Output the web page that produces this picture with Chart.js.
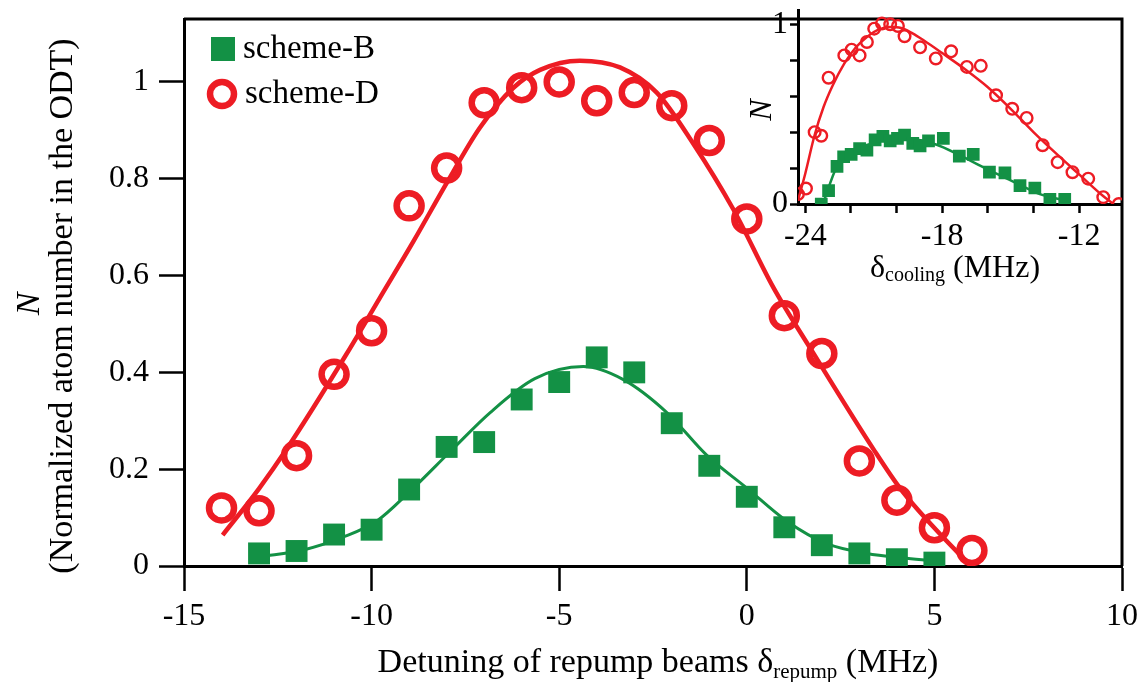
<!DOCTYPE html>
<html lang="en">
<head>
<meta charset="UTF-8">
<title>Atom number in the ODT vs repump detuning</title>
<script src="https://cdn.jsdelivr.net/npm/chart.js"></script>
<style>
  html, body { margin: 0; padding: 0; background: #fff; }
  #wrap { position: relative; width: 1141px; height: 682px; }
  .box { position: absolute; }
</style>
</head>
<body>
<div id="wrap">
  <div class="box" style="left:0;top:0;width:1141px;height:682px"><canvas id="main"></canvas></div>
  <div class="box" style="left:740px;top:0;width:401px;height:300px"><canvas id="inset"></canvas></div>
</div>
<script>
const RED = '#ED1C24';
const GREEN = '#139145';
const SERIF = "'Liberation Serif', 'Times New Roman', serif";

// main panel: repump detuning (MHz) vs normalized atom number
const repumpB = [-13, -12, -11, -10, -9, -8, -7, -6, -5, -4, -3, -2, -1, 0, 1, 2, 3, 4, 5];
const atomsB = [0.026, 0.031, 0.065, 0.075, 0.158, 0.246, 0.256, 0.344, 0.380, 0.431, 0.400, 0.295, 0.207, 0.143, 0.080, 0.043, 0.026, 0.014, 0.007];
const repumpD = [-14, -13, -12, -11, -10, -9, -8, -7, -6, -5, -4, -3, -2, -1, 0, 1, 2, 3, 4, 5, 6];
const atomsD = [0.120, 0.114, 0.228, 0.396, 0.486, 0.744, 0.822, 0.957, 0.988, 1.000, 0.961, 0.978, 0.951, 0.879, 0.717, 0.517, 0.439, 0.217, 0.136, 0.079, 0.032];

// fitted curves, sampled
const fitBx = [-12.97, -11.82, -10.75, -9.86, -8.98, -7.91, -6.84, -5.65, -4.36, -3.29, -2.13, -1.07, 0, 1.06, 2.13, 3.2, 4.26, 5.15];
const fitBy = [0.019, 0.033, 0.060, 0.093, 0.154, 0.236, 0.317, 0.387, 0.412, 0.385, 0.317, 0.229, 0.161, 0.093, 0.046, 0.026, 0.016, 0.009];
const fitDx = [-13.97, -13, -12.26, -10.66, -9.78, -8.89, -8.0, -7.11, -6.22, -5.51, -4.45, -3.38, -2.40, -1.43, -0.36, 0.71, 1.77, 3.37, 4.08, 5.15, 5.95];
const fitDy = [0.064, 0.160, 0.242, 0.439, 0.554, 0.670, 0.791, 0.906, 0.988, 1.025, 1.044, 1.030, 0.978, 0.873, 0.737, 0.575, 0.440, 0.242, 0.161, 0.066, 0.002];

const mainXTicks = [-15, -10, -5, 0, 5, 10];
const mainYTicks = [0, 0.2, 0.4, 0.6, 0.8, 1];

// inset: cooling detuning (MHz)
const coolD = [-24.32, -23.97, -23.59, -23.30, -22.98, -22.29, -21.97, -21.62, -21.30, -20.98, -20.64, -20.28, -19.94, -19.65, -18.97, -18.28, -17.61, -16.92, -16.31, -15.64, -14.93, -14.30, -13.60, -12.94, -12.29, -11.60, -10.94, -10.26];
const insetD = [0.055, 0.086, 0.400, 0.380, 0.703, 0.827, 0.859, 0.827, 0.902, 0.976, 1.004, 1.000, 0.991, 0.934, 0.872, 0.810, 0.850, 0.763, 0.769, 0.605, 0.530, 0.479, 0.327, 0.233, 0.177, 0.141, 0.038, 0.000];
const coolB = [-23.30, -22.98, -22.61, -22.32, -21.99, -21.62, -21.30, -20.94, -20.60, -20.28, -19.96, -19.65, -19.29, -18.97, -18.60, -17.95, -17.25, -16.64, -15.93, -15.25, -14.59, -13.94, -13.28, -12.63];
const insetB = [0.000, 0.075, 0.210, 0.263, 0.276, 0.308, 0.300, 0.357, 0.376, 0.351, 0.365, 0.384, 0.338, 0.323, 0.351, 0.365, 0.267, 0.276, 0.177, 0.173, 0.102, 0.089, 0.026, 0.026];

const insetFitDx = [-24.32, -24.0, -23.6, -23.2, -22.8, -22.3, -21.8, -21.3, -20.8, -20.3, -19.8, -19.3, -18.8, -18.0, -17.0, -16.0, -15.0, -14.0, -13.0, -12.0, -11.0, -10.5];
const insetFitDy = [0.02, 0.17, 0.38, 0.54, 0.66, 0.78, 0.87, 0.93, 0.97, 0.985, 0.98, 0.95, 0.91, 0.84, 0.75, 0.65, 0.53, 0.40, 0.28, 0.165, 0.05, 0.0];
const insetFitBx = [-23.23, -22.61, -22.03, -21.15, -20.13, -19.41, -18.24, -17.22, -16.06, -14.89, -13.72, -12.63];
const insetFitBy = [0.0, 0.21, 0.28, 0.335, 0.36, 0.36, 0.33, 0.27, 0.195, 0.125, 0.055, 0.02];

const insetXTicks = [-24, -22, -20, -18, -16, -14, -12];
const insetXLabels = [-24, -18, -12];
const insetYTicks = [0, 0.2, 0.4, 0.6, 0.8, 1];
const insetYLabels = [0, 1];

const pts = (xs, ys) => xs.map((x, i) => ({ x, y: ys[i] }));

// text with an optional subscript, laid out left to right around a centre x
function drawParts(ctx, parts, cx, baseY) {
  let total = 0;
  parts.forEach(p => {
    ctx.font = `${p.italic ? 'italic ' : ''}${p.size}px ${SERIF}`;
    p.w = ctx.measureText(p.t).width;
    total += p.w;
  });
  let x = cx - total / 2;
  ctx.textAlign = 'left';
  ctx.textBaseline = 'alphabetic';
  parts.forEach(p => {
    ctx.font = `${p.italic ? 'italic ' : ''}${p.size}px ${SERIF}`;
    ctx.fillText(p.t, x, baseY + (p.dy || 0));
    x += p.w;
  });
}

function rotatedText(ctx, text, x, y, font) {
  ctx.save();
  ctx.translate(x, y);
  ctx.rotate(-Math.PI / 2);
  ctx.font = font;
  ctx.textAlign = 'center';
  ctx.textBaseline = 'middle';
  ctx.fillText(text, 0, 0);
  ctx.restore();
}

function fixTicks(values) {
  return scale => { scale.ticks = values.map(v => ({ value: v })); };
}

// fixed axis thickness, and no extra room reserved for edge labels
function fixSize(key, size) {
  return s => {
    s[key] = size;
    s.paddingTop = 0; s.paddingBottom = 0; s.paddingLeft = 0; s.paddingRight = 0;
  };
}

const mainDecor = {
  id: 'mainDecor',
  afterDraw(chart) {
    const { ctx, chartArea: a } = chart;
    ctx.save();
    ctx.fillStyle = '#000';
    ctx.strokeStyle = '#000';
    // top and right frame lines
    ctx.lineWidth = 3;
    ctx.beginPath();
    ctx.moveTo(a.left, a.top);
    ctx.lineTo(a.right, a.top);
    ctx.lineTo(a.right, a.bottom);
    ctx.stroke();

    // axis titles
    drawParts(ctx, [
      { t: 'Detuning of repump beams δ', size: 34 },
      { t: 'repump', size: 21, dy: 6 },
      { t: ' (MHz)', size: 34 }
    ], 658, 672);
    rotatedText(ctx, 'N', 30, 304, `italic 34px ${SERIF}`);
    rotatedText(ctx, '(Normalized atom number in the ODT)', 63, 306, `34px ${SERIF}`);

    // legend
    ctx.fillStyle = GREEN;
    ctx.fillRect(211, 37, 24, 24);
    ctx.strokeStyle = RED;
    ctx.lineWidth = 6.5;
    ctx.beginPath();
    ctx.arc(222, 94, 12, 0, Math.PI * 2);
    ctx.stroke();
    ctx.fillStyle = '#000';
    ctx.font = `33px ${SERIF}`;
    ctx.textAlign = 'left';
    ctx.textBaseline = 'alphabetic';
    ctx.fillText('scheme-B', 243, 58);
    ctx.fillText('scheme-D', 245, 103);
    ctx.restore();
  }
};

const insetDecor = {
  id: 'insetDecor',
  afterDraw(chart) {
    const { ctx } = chart;
    ctx.save();
    ctx.fillStyle = '#000';
    drawParts(ctx, [
      { t: 'δ', size: 32 },
      { t: 'cooling', size: 20, dy: 4 },
      { t: ' (MHz)', size: 32 }
    ], 215, 277);
    rotatedText(ctx, 'N', 23, 110, `italic 32px ${SERIF}`);
    ctx.restore();
  }
};

const axisStyle = (tickLen, tickWidth) => ({
  border: { display: true, color: '#000', width: 3 },
  grid: { display: true, drawOnChartArea: false, drawTicks: true, tickLength: tickLen, tickWidth: tickWidth, tickColor: '#000', color: '#000' }
});

new Chart(document.getElementById('main'), {
  type: 'scatter',
  data: {
    datasets: [
      { label: 'scheme-D fit', data: pts(fitDx, fitDy), showLine: true, pointRadius: 0, borderColor: RED, borderWidth: 4.5, cubicInterpolationMode: 'monotone', order: 4 },
      { label: 'scheme-B fit', data: pts(fitBx, fitBy), showLine: true, pointRadius: 0, borderColor: GREEN, borderWidth: 3, cubicInterpolationMode: 'monotone', order: 3 },
      { label: 'scheme-B', data: pts(repumpB, atomsB), pointStyle: 'rect', pointRadius: 15.5, backgroundColor: GREEN, borderWidth: 0, order: 2 },
      { label: 'scheme-D', data: pts(repumpD, atomsD), pointStyle: 'circle', pointRadius: 12.5, backgroundColor: 'rgba(0,0,0,0)', borderColor: RED, borderWidth: 6.5, order: 1 }
    ]
  },
  options: {
    responsive: true,
    maintainAspectRatio: false,
    animation: false,
    // the axis border adds a little on top, so the top padding is trimmed to suit
    layout: { padding: { left: 0, top: 10.5, right: 19, bottom: 0 } },
    plugins: { legend: { display: false }, tooltip: { enabled: false } },
    scales: {
      x: {
        type: 'linear', min: -15, max: 10,
        ...axisStyle(25, 2.5),
        afterBuildTicks: fixTicks(mainXTicks),
        afterFit: fixSize('height', 116),
        ticks: { color: '#000', padding: 6, font: { family: SERIF, size: 32 }, maxRotation: 0, callback: v => String(v) }
      },
      y: {
        type: 'linear', min: 0, max: 1.13,
        ...axisStyle(25, 2.5),
        afterBuildTicks: fixTicks(mainYTicks),
        afterFit: fixSize('width', 184),
        ticks: { color: '#000', padding: 10, font: { family: SERIF, size: 32 }, callback: v => String(Math.round(v * 10) / 10) }
      }
    }
  },
  plugins: [mainDecor]
});

new Chart(document.getElementById('inset'), {
  type: 'scatter',
  data: {
    datasets: [
      { label: 'scheme-D fit', data: pts(insetFitDx, insetFitDy), showLine: true, pointRadius: 0, borderColor: RED, borderWidth: 2.5, cubicInterpolationMode: 'monotone', order: 4 },
      { label: 'scheme-B fit', data: pts(insetFitBx, insetFitBy), showLine: true, pointRadius: 0, borderColor: GREEN, borderWidth: 2.5, cubicInterpolationMode: 'monotone', order: 3 },
      { label: 'scheme-B', data: pts(coolB, insetB), pointStyle: 'rect', pointRadius: 9, backgroundColor: GREEN, borderWidth: 0, order: 2 },
      { label: 'scheme-D', data: pts(coolD, insetD), pointStyle: 'circle', pointRadius: 5.8, backgroundColor: 'rgba(0,0,0,0)', borderColor: RED, borderWidth: 2.4, order: 1 }
    ]
  },
  options: {
    responsive: true,
    maintainAspectRatio: false,
    animation: false,
    layout: { padding: { left: 0, top: 10.5, right: 19, bottom: 0 } },
    plugins: { legend: { display: false }, tooltip: { enabled: false } },
    scales: {
      x: {
        type: 'linear', min: -24.32, max: -10.12,
        ...axisStyle(9, 2.5),
        afterBuildTicks: fixTicks(insetXTicks),
        afterFit: fixSize('height', 96),
        ticks: { color: '#000', padding: 4, font: { family: SERIF, size: 32 }, maxRotation: 0, autoSkip: false,
          callback: v => insetXLabels.includes(v) ? String(v) : '' }
      },
      y: {
        type: 'linear', min: 0, max: 1.077,
        ...axisStyle(8, 2.5),
        afterBuildTicks: fixTicks(insetYTicks),
        afterFit: fixSize('width', 58),
        ticks: { color: '#000', padding: 2, font: { family: SERIF, size: 32 }, autoSkip: false,
          callback: v => insetYLabels.includes(v) ? String(v) : '' }
      }
    }
  },
  plugins: [insetDecor]
});
</script>
</body>
</html>
